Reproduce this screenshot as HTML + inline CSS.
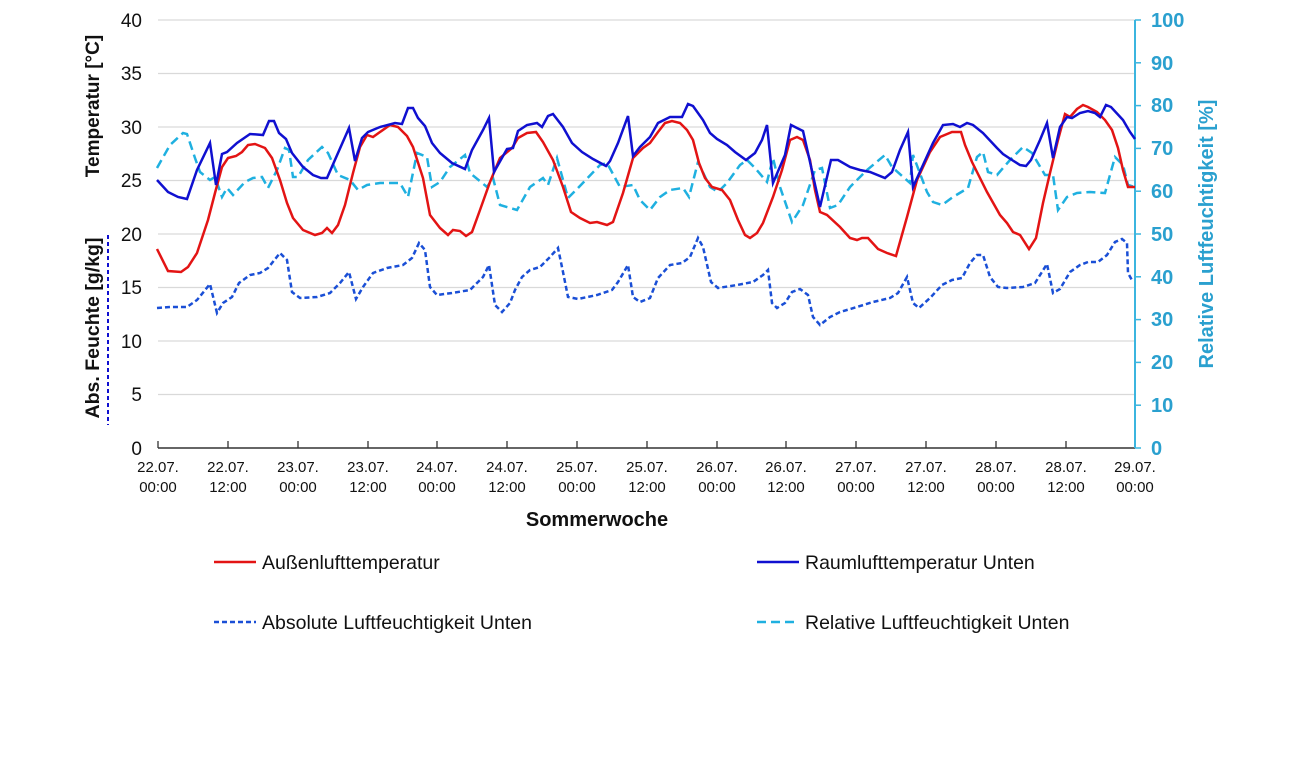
<!DOCTYPE html>
<html><head><meta charset="utf-8"><style>
body{margin:0;background:#fff;width:1300px;height:758px;overflow:hidden}
svg text{font-family:"Liberation Sans",Arial,sans-serif}
</style></head><body>
<svg width="1300" height="758" viewBox="0 0 1300 758" xmlns="http://www.w3.org/2000/svg">
<g stroke="#d9d9d9" stroke-width="1.3">
<line x1="158" y1="20" x2="1135" y2="20"/><line x1="158" y1="73.5" x2="1135" y2="73.5"/>
<line x1="158" y1="127" x2="1135" y2="127"/><line x1="158" y1="180.5" x2="1135" y2="180.5"/>
<line x1="158" y1="234" x2="1135" y2="234"/><line x1="158" y1="287.5" x2="1135" y2="287.5"/>
<line x1="158" y1="341" x2="1135" y2="341"/><line x1="158" y1="394.5" x2="1135" y2="394.5"/>
</g>
<line x1="158" y1="448" x2="1135" y2="448" stroke="#333" stroke-width="1.5"/>
<g stroke="#333" stroke-width="1.3">
<line x1="158" y1="448" x2="158" y2="441"/><line x1="228" y1="448" x2="228" y2="441"/><line x1="298" y1="448" x2="298" y2="441"/><line x1="368" y1="448" x2="368" y2="441"/><line x1="437" y1="448" x2="437" y2="441"/><line x1="507" y1="448" x2="507" y2="441"/><line x1="577" y1="448" x2="577" y2="441"/><line x1="647" y1="448" x2="647" y2="441"/><line x1="717" y1="448" x2="717" y2="441"/><line x1="786" y1="448" x2="786" y2="441"/><line x1="856" y1="448" x2="856" y2="441"/><line x1="926" y1="448" x2="926" y2="441"/><line x1="996" y1="448" x2="996" y2="441"/><line x1="1066" y1="448" x2="1066" y2="441"/><line x1="1135" y1="448" x2="1135" y2="441"/>
</g>
<line x1="1135" y1="20" x2="1135" y2="448" stroke="#3bb5df" stroke-width="2"/>
<g stroke="#3bb5df" stroke-width="1.5">
<line x1="1135" y1="20" x2="1141" y2="20"/><line x1="1135" y1="62.8" x2="1141" y2="62.8"/><line x1="1135" y1="105.6" x2="1141" y2="105.6"/><line x1="1135" y1="148.4" x2="1141" y2="148.4"/><line x1="1135" y1="191.2" x2="1141" y2="191.2"/><line x1="1135" y1="234" x2="1141" y2="234"/><line x1="1135" y1="276.8" x2="1141" y2="276.8"/><line x1="1135" y1="319.6" x2="1141" y2="319.6"/><line x1="1135" y1="362.4" x2="1141" y2="362.4"/><line x1="1135" y1="405.2" x2="1141" y2="405.2"/><line x1="1135" y1="448" x2="1141" y2="448"/>
</g>
<g font-size="19" fill="#111" text-anchor="end">
<text x="142" y="27">40</text><text x="142" y="80">35</text><text x="142" y="134">30</text><text x="142" y="187">25</text><text x="142" y="241">20</text><text x="142" y="294">15</text><text x="142" y="348">10</text><text x="142" y="401">5</text><text x="142" y="455">0</text>
</g>
<g font-size="20" fill="#2aa0cf" font-weight="bold" text-anchor="start">
<text x="1151" y="27">100</text><text x="1151" y="70">90</text><text x="1151" y="112">80</text><text x="1151" y="155">70</text><text x="1151" y="198">60</text><text x="1151" y="241">50</text><text x="1151" y="284">40</text><text x="1151" y="326">30</text><text x="1151" y="369">20</text><text x="1151" y="412">10</text><text x="1151" y="455">0</text>
</g>
<g font-size="15" fill="#111" text-anchor="middle">
<text x="158" y="472">22.07.</text><text x="158" y="492">00:00</text>
<text x="228" y="472">22.07.</text><text x="228" y="492">12:00</text>
<text x="298" y="472">23.07.</text><text x="298" y="492">00:00</text>
<text x="368" y="472">23.07.</text><text x="368" y="492">12:00</text>
<text x="437" y="472">24.07.</text><text x="437" y="492">00:00</text>
<text x="507" y="472">24.07.</text><text x="507" y="492">12:00</text>
<text x="577" y="472">25.07.</text><text x="577" y="492">00:00</text>
<text x="647" y="472">25.07.</text><text x="647" y="492">12:00</text>
<text x="717" y="472">26.07.</text><text x="717" y="492">00:00</text>
<text x="786" y="472">26.07.</text><text x="786" y="492">12:00</text>
<text x="856" y="472">27.07.</text><text x="856" y="492">00:00</text>
<text x="926" y="472">27.07.</text><text x="926" y="492">12:00</text>
<text x="996" y="472">28.07.</text><text x="996" y="492">00:00</text>
<text x="1066" y="472">28.07.</text><text x="1066" y="492">12:00</text>
<text x="1135" y="472">29.07.</text><text x="1135" y="492">00:00</text>
</g>
<text x="597" y="526" font-size="20" font-weight="bold" text-anchor="middle" fill="#111">Sommerwoche</text>
<text transform="translate(99,106) rotate(-90)" font-size="19" font-weight="bold" text-anchor="middle" fill="#111">Temperatur  [°C]</text>
<text transform="translate(99,328) rotate(-90)" font-size="19.5" font-weight="bold" text-anchor="middle" fill="#111">Abs. Feuchte [g/kg]</text>
<line x1="108" y1="235" x2="108" y2="425" stroke="#1010d0" stroke-width="2" stroke-dasharray="4,3"/>
<text transform="translate(1213,234) rotate(-90)" font-size="20" font-weight="bold" text-anchor="middle" fill="#2aa0cf">Relative Luftfeuchtigkeit [%]</text>

<polyline fill="none" stroke="#1a4fd6" stroke-width="2.5" stroke-dasharray="5,3" points="157,308 170,307 187,307 197,300 210,284 217,313 223,303 232,297 239,283 250,275 260,273 268,268 280,253 287,260 292,292 300,298 317,297 330,293 340,283 349,272 356,299 363,287 373,273 387,268 403,265 412,258 419,243 425,250 430,287 437,295 452,293 470,290 483,277 489,265 495,305 502,312 510,303 515,290 522,277 530,270 540,267 550,257 558,248 563,272 568,297 578,299 597,295 612,290 618,282 628,265 633,297 640,302 650,298 658,278 670,265 682,263 690,257 698,238 703,247 711,282 718,288 737,285 753,282 763,275 768,270 772,303 777,308 785,303 792,292 800,289 808,295 813,317 820,325 830,317 840,312 857,307 873,302 890,298 898,293 907,277 913,303 919,308 930,298 942,285 952,280 962,278 970,263 977,255 983,255 990,277 998,287 1007,288 1023,287 1035,283 1047,264 1053,293 1060,289 1070,272 1080,265 1088,262 1098,262 1107,255 1115,242 1122,239 1127,243 1128,273 1133,282"/>
<polyline fill="none" stroke="#1fb0e0" stroke-width="2.5" stroke-dasharray="9,5" points="157,168 170,145 183,133 187,134 195,158 200,172 210,180 215,177 222,197 227,188 233,195 245,182 253,178 262,177 268,188 277,170 285,148 289,150 293,177 298,177 308,160 322,147 328,153 338,175 350,180 358,190 367,185 380,183 400,183 408,197 417,153 427,157 432,187 440,182 450,167 465,155 470,173 487,187 493,178 500,205 517,210 530,187 543,178 548,185 557,158 568,198 578,188 600,165 607,163 620,187 633,185 640,200 650,210 660,197 670,190 683,188 689,197 698,162 710,187 718,192 727,183 740,165 747,160 755,168 767,182 773,158 780,187 792,222 803,205 815,170 822,168 830,208 838,205 850,187 867,170 885,155 892,167 910,183 913,155 927,192 933,202 942,205 953,197 968,188 977,157 983,152 988,172 997,175 1010,160 1023,147 1032,153 1045,175 1053,175 1058,210 1067,197 1077,193 1090,192 1105,193 1115,157 1123,165 1128,185 1135,187"/>
<polyline fill="none" stroke="#e31414" stroke-width="2.5" points="157,249 168,271 181,272 188,267 197,253 208,220 215,193 222,167 228,158 236,156 242,152 248,145 255,144 265,148 272,158 280,180 287,203 293,218 303,230 315,235 322,233 327,228 332,233 338,225 345,205 353,173 360,147 367,135 373,137 380,132 390,125 398,127 407,136 413,147 423,178 430,215 440,228 448,235 453,230 460,231 466,236 472,232 480,210 490,182 500,158 512,148 518,138 527,133 536,132 543,142 553,160 563,187 571,212 580,218 590,223 597,222 607,225 613,222 623,193 633,158 643,148 650,143 658,132 665,123 672,121 680,123 687,130 693,140 699,163 705,178 712,187 722,190 730,200 738,220 745,235 750,238 757,233 763,223 773,197 782,170 790,140 797,137 803,140 810,160 815,190 820,212 827,215 840,227 850,238 857,240 862,238 868,238 878,249 887,253 896,256 907,217 917,180 930,152 940,137 952,132 961,132 965,145 972,162 975,168 987,192 1000,215 1007,223 1013,232 1020,235 1029,249 1036,238 1043,203 1050,173 1058,140 1065,114 1070,117 1077,109 1083,105 1088,107 1097,112 1105,120 1112,130 1118,148 1123,170 1128,187 1135,187"/>
<polyline fill="none" stroke="#1010d0" stroke-width="2.5" points="157,180 168,192 178,197 187,199 197,170 210,143 216,185 222,154 227,152 237,143 250,134 263,135 269,121 274,121 279,133 286,139 292,153 303,167 313,175 321,178 327,178 338,153 349,128 355,161 362,138 368,132 380,127 395,123 402,124 408,108 413,108 418,118 425,126 432,143 440,153 452,163 465,169 472,150 483,130 489,118 494,172 507,149 513,148 518,131 527,125 537,123 542,127 548,116 553,114 563,127 572,143 582,152 593,159 606,166 610,161 618,143 628,116 633,156 640,147 650,137 658,123 670,117 682,117 688,104 693,106 703,120 710,133 717,139 727,145 735,152 746,160 755,153 762,140 767,125 773,183 785,155 791,125 803,131 808,153 820,207 831,160 838,160 850,167 860,170 870,172 885,178 892,172 900,150 908,132 913,187 923,165 933,143 943,125 953,124 960,127 967,123 973,125 983,133 997,148 1003,154 1012,160 1020,165 1026,166 1031,160 1040,140 1047,123 1053,158 1060,127 1067,117 1072,118 1080,113 1088,111 1095,113 1100,117 1106,105 1111,107 1123,120 1130,132 1135,139"/>

<line x1="214" y1="562" x2="256" y2="562" stroke="#e31414" stroke-width="2.5"/>
<text x="262" y="569" font-size="19.5" fill="#111">Außenlufttemperatur</text>
<line x1="757" y1="562" x2="799" y2="562" stroke="#1010d0" stroke-width="2.5"/>
<text x="805" y="569" font-size="19.5" fill="#111">Raumlufttemperatur Unten</text>
<line x1="214" y1="622" x2="256" y2="622" stroke="#1a4fd6" stroke-width="2.5" stroke-dasharray="5,3"/>
<text x="262" y="629" font-size="19.5" fill="#111">Absolute Luftfeuchtigkeit Unten</text>
<line x1="757" y1="622" x2="799" y2="622" stroke="#1fb0e0" stroke-width="2.5" stroke-dasharray="9,5"/>
<text x="805" y="629" font-size="19.5" fill="#111">Relative Luftfeuchtigkeit Unten</text>
</svg>
</body></html>
